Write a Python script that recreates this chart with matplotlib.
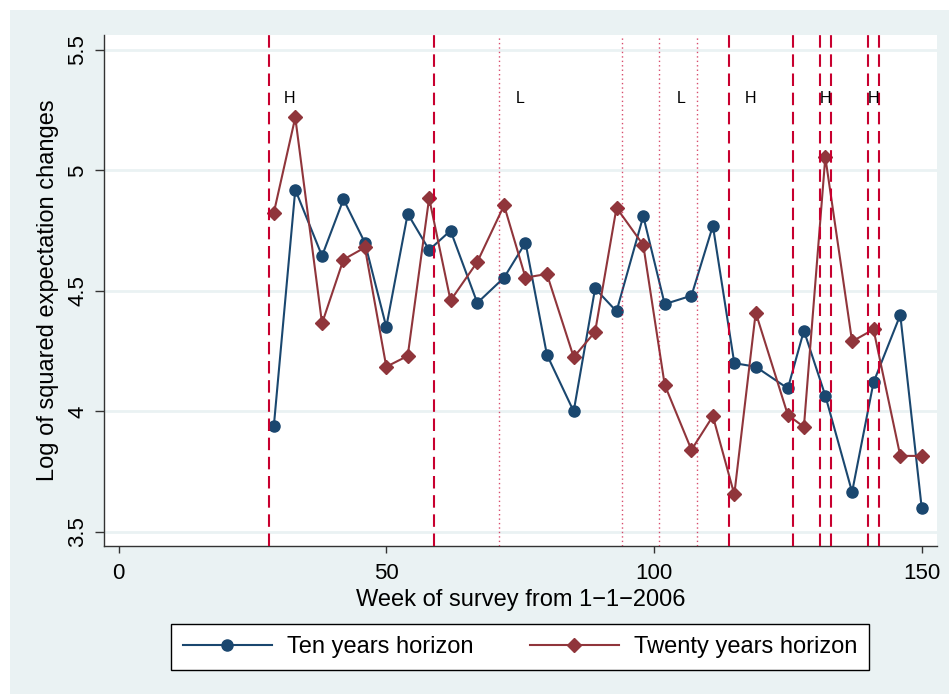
import matplotlib
matplotlib.use("Agg")
import matplotlib.pyplot as plt
from matplotlib.patches import Rectangle

plt.rcParams['font.family'] = ['Liberation Sans', 'DejaVu Sans']

# survey weeks and the two series
weeks = [29, 33, 38, 42, 46, 50, 54, 58, 62, 67, 72, 76, 80, 85, 89, 93, 98,
         102, 107, 111, 115, 119, 125, 128, 132, 137, 141, 146, 150]
ten_years = [3.94, 4.92, 4.645, 4.88, 4.70, 4.35, 4.82, 4.67, 4.75, 4.45,
             4.555, 4.70, 4.235, 4.00, 4.51, 4.415, 4.81, 4.445, 4.48, 4.77,
             4.20, 4.185, 4.095, 4.335, 4.065, 3.665, 4.12, 4.40, 3.60]
twenty_years = [4.825, 5.22, 4.365, 4.63, 4.68, 4.185, 4.23, 4.885, 4.46, 4.62,
                4.855, 4.555, 4.57, 4.225, 4.33, 4.845, 4.69, 4.11, 3.84, 3.98,
                3.655, 4.41, 3.985, 3.935, 5.055, 4.29, 4.34, 3.815, 3.815]

# regime boundaries
high_weeks = [28, 59, 114, 126, 131, 133, 140, 142]
low_weeks = [71, 94, 101, 108]
regime_x = [32, 75, 105, 118, 132, 141]
regime_txt = ['H', 'L', 'L', 'H', 'H', 'H']

bg = '#EAF2F3'
navy = '#1A476F'
maroon = '#90353B'
red = '#C8002F'

fig = plt.figure(figsize=(9.49, 6.94), dpi=100, facecolor=bg)
# thin white strip on the top and left edge
fig.patches.append(Rectangle((0, 0), 10 / 949, 1, transform=fig.transFigure,
                             facecolor='white', edgecolor='none', zorder=0))
fig.patches.append(Rectangle((0, 1 - 10 / 694), 1, 10 / 694, transform=fig.transFigure,
                             facecolor='white', edgecolor='none', zorder=0))

ax = fig.add_axes([104.3 / 949, 1 - 546 / 694, (937 - 104.3) / 949, (546 - 35) / 694])
ax.set_facecolor('white')

ax.plot(weeks, ten_years, color=navy, lw=1.5, marker='o', ms=8,
        label='Ten years horizon', zorder=2)
ax.plot(weeks, twenty_years, color=maroon, lw=1.5, marker='D', ms=7.5,
        label='Twenty years horizon', zorder=2)

for w in high_weeks:
    ax.axvline(w, color=red, lw=1.5, ls=(0, (6, 3.2)), zorder=3)
for w in low_weeks:
    ax.axvline(w, color=red, lw=1.0, ls=(0, (1, 2.2)), alpha=0.7, zorder=3)

for x, t in zip(regime_x, regime_txt):
    ax.text(x, 5.3, t, ha='center', va='center', fontsize=11.5, color='black')

ax.set_xlim(-2.67, 152.86)
ax.set_ylim(3.441, 5.562)
ax.set_xticks([0, 50, 100, 150])
ax.set_yticks([3.5, 4, 4.5, 5, 5.5])
ax.set_yticklabels(['3.5', '4', '4.5', '5', '5.5'], rotation=90, va='center')
ax.grid(axis='y', color=bg, lw=2)
ax.set_axisbelow(True)

for s in ['top', 'right']:
    ax.spines[s].set_visible(False)
for s in ['left', 'bottom']:
    ax.spines[s].set_color('#333333')
    ax.spines[s].set_linewidth(1)

ax.tick_params(axis='x', length=5, width=1, color='#333333', labelsize=16, pad=7)
ax.tick_params(axis='y', length=6.5, width=1, color='#333333', labelsize=16, pad=5)

ax.set_xlabel('Week of survey from 1\u22121\u22122006', fontsize=17, labelpad=4)
ax.set_ylabel('Log of squared expectation changes', fontsize=17, labelpad=6)

leg = fig.legend(loc='center', bbox_to_anchor=(520 / 949, 1 - 647 / 694), ncol=2,
                 fontsize=17, handlelength=3.77, handletextpad=0.64,
                 columnspacing=2.4, borderpad=0.5, frameon=True, fancybox=False,
                 framealpha=1, edgecolor='black')
leg.get_frame().set_linewidth(1)

fig.savefig('out.png', dpi=100, facecolor=fig.get_facecolor())
